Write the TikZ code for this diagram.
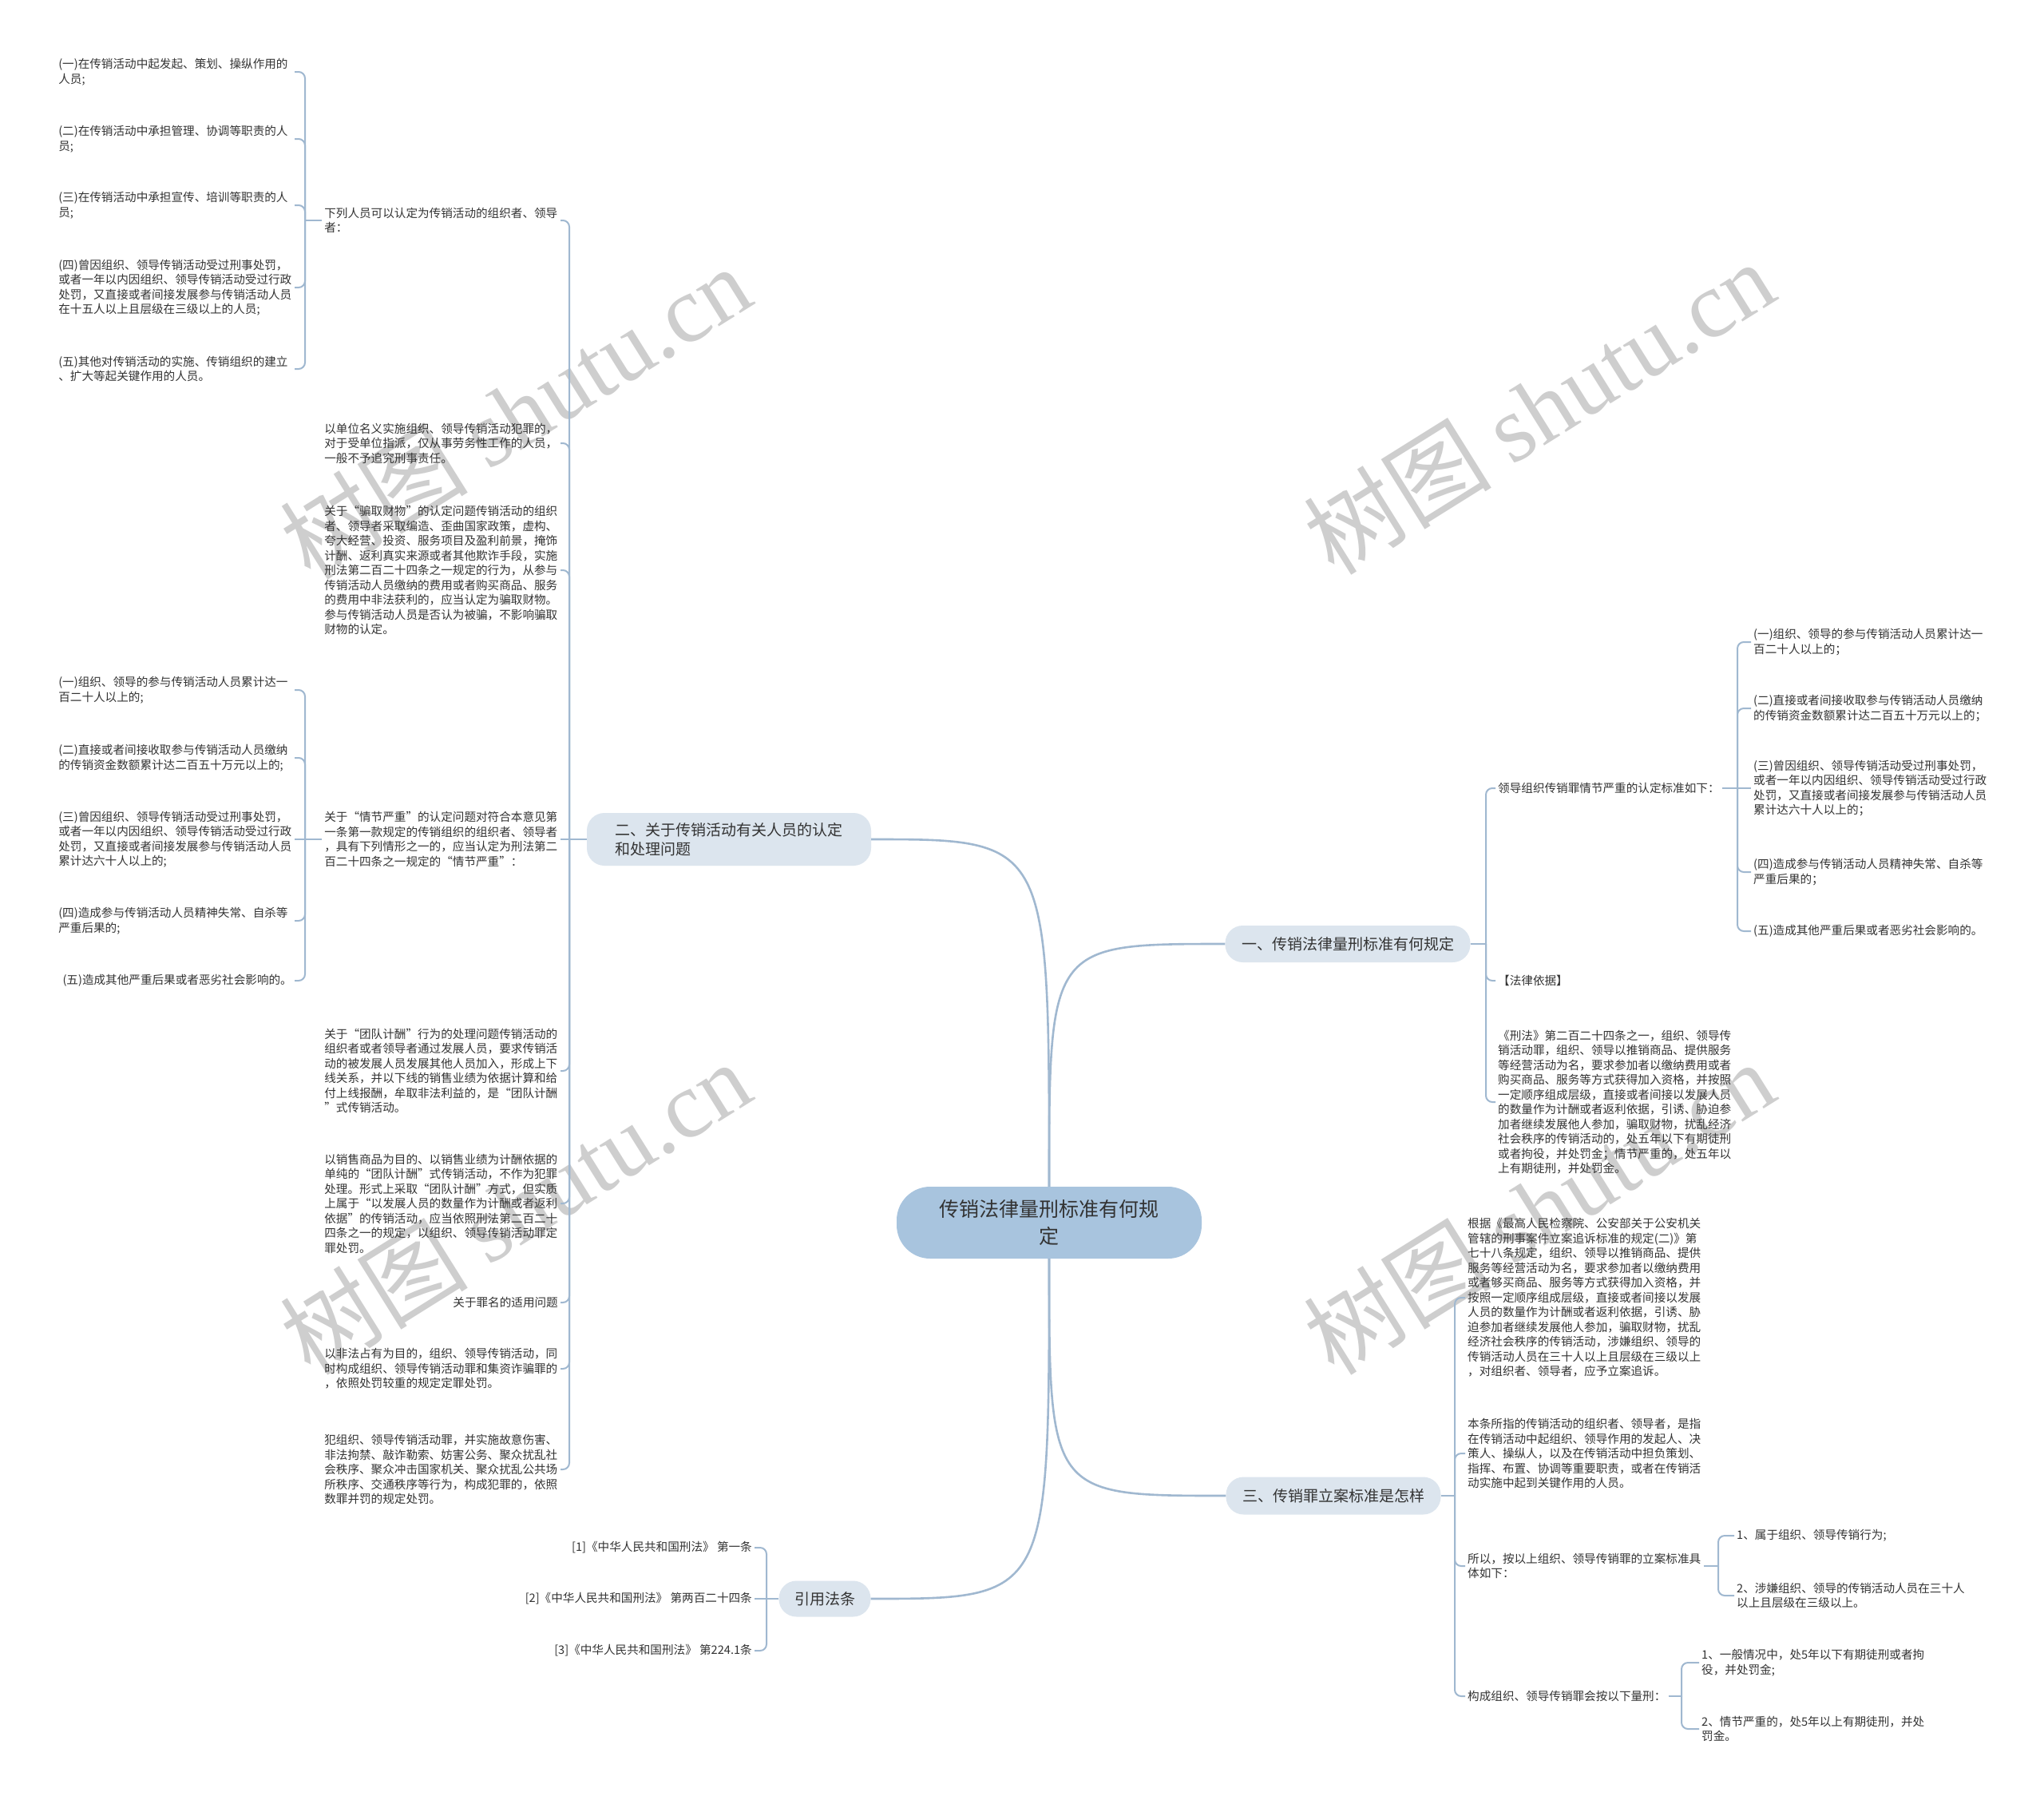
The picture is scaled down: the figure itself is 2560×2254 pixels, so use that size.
\documentclass[tikz,border=0pt]{standalone}
\usepackage{fontspec}
\setmainfont{Noto Sans CJK SC}
\newfontfamily\wmserif{Liberation Serif}
\usetikzlibrary{calc}
\definecolor{txt}{RGB}{51,51,51}
\definecolor{lnc}{RGB}{160,184,208}
\definecolor{ctrfill}{RGB}{168,196,222}
\definecolor{brfill}{RGB}{220,229,238}
\definecolor{wm}{RGB}{206,206,206}
\tikzset{
  leaf/.style={inner sep=3pt, text=txt, font=\fontsize{14.6}{18.5}\selectfont, align=left},
  para/.style={leaf, text width=292.5pt},
  branch/.style={rounded corners=22pt, fill=brfill, text=txt, font=\fontsize{19}{24.5}\selectfont, align=left, inner sep=0pt},
  ctr/.style={rounded corners=42pt, fill=ctrfill, text=txt, font=\fontsize{25}{34}\selectfont, align=center, inner sep=0pt, minimum width=382pt, minimum height=90pt},
  conn/.style={draw=lnc, line width=2pt},
  hook/.style={conn, rounded corners=8pt},
  mainc/.style={draw=lnc, line width=2.6pt},
  wmark/.style={text=wm, rotate=32, font=\fontsize{118}{118}\selectfont, inner sep=0pt}
}
\begin{document}
\begin{tikzpicture}[x=1pt,y=-1pt]
\fill[white] (0,0) rectangle (2560,2254);
\useasboundingbox (0,0) rectangle (2560,2254);

% watermarks
\node[wmark] (w1) at (645,516) {树图 {\wmserif shutu.cn}};
\node[wmark] (w2) at (1927,510) {树图 {\wmserif shutu.cn}};
\node[wmark] (w3) at (645,1512) {树图 {\wmserif shutu.cn}};
\node[wmark] (w4) at (1927,1512) {树图 {\wmserif shutu.cn}};

% spine coordinates
\coordinate (sp2) at (713,0);
\coordinate (spg1) at (382,0);
\coordinate (spg2) at (382,0);
\coordinate (sp1) at (1861,0);
\coordinate (spr1) at (2176,0);
\coordinate (sp3) at (1822,0);
\coordinate (spt3) at (2152,0);
\coordinate (spt4) at (2106,0);
\coordinate (sp4) at (960,0);

% center and branches
\node[ctr] (cn) at (1314,1531) {传销法律量刑标准有何规\\定};
\node[branch, minimum width=356pt, minimum height=66pt] (b2) at (913,1051) {二、关于传销活动有关人员的认定\\和处理问题};
\node[branch, minimum width=307pt, minimum height=46pt] (b1) at (1688,1182) {一、传销法律量刑标准有何规定};
\node[branch, minimum width=269pt, minimum height=47pt] (b3) at (1670,1873) {三、传销罪立案标准是怎样};
\node[branch, minimum width=115pt, minimum height=45pt] (b4) at (1033,2002) {引用法条};

% branch 二 children
\node[para, anchor=east] (c1) at (702,276) {下列人员可以认定为传销活动的组织者、领导\\者：};
\node[para, anchor=east] (c2) at (702,555) {以单位名义实施组织、领导传销活动犯罪的，\\对于受单位指派，仅从事劳务性工作的人员，\\一般不予追究刑事责任。};
\node[para, anchor=east] (c3) at (702,714) {关于“骗取财物”的认定问题传销活动的组织\\者、领导者采取编造、歪曲国家政策，虚构、\\夸大经营、投资、服务项目及盈利前景，掩饰\\计酬、返利真实来源或者其他欺诈手段，实施\\刑法第二百二十四条之一规定的行为，从参与\\传销活动人员缴纳的费用或者购买商品、服务\\的费用中非法获利的，应当认定为骗取财物。\\参与传销活动人员是否认为被骗，不影响骗取\\财物的认定。};
\node[para, anchor=east] (c4) at (702,1051) {关于“情节严重”的认定问题对符合本意见第\\一条第一款规定的传销组织的组织者、领导者\\，具有下列情形之一的，应当认定为刑法第二\\百二十四条之一规定的“情节严重”：};
\node[para, anchor=east] (c5) at (702,1341) {关于“团队计酬”行为的处理问题传销活动的\\组织者或者领导者通过发展人员，要求传销活\\动的被发展人员发展其他人员加入，形成上下\\线关系，并以下线的销售业绩为依据计算和给\\付上线报酬，牟取非法利益的，是“团队计酬\\”式传销活动。};
\node[para, anchor=east] (c6) at (702,1507) {以销售商品为目的、以销售业绩为计酬依据的\\单纯的“团队计酬”式传销活动，不作为犯罪\\处理。形式上采取“团队计酬”方式，但实质\\上属于“以发展人员的数量作为计酬或者返利\\依据”的传销活动，应当依照刑法第二百二十\\四条之一的规定，以组织、领导传销活动罪定\\罪处罚。};
\node[leaf, anchor=east] (c7) at (702,1631) {关于罪名的适用问题};
\node[para, anchor=east] (c8) at (702,1714) {以非法占有为目的，组织、领导传销活动，同\\时构成组织、领导传销活动罪和集资诈骗罪的\\，依照处罚较重的规定定罪处罚。};
\node[para, anchor=east] (c9) at (702,1840) {犯组织、领导传销活动罪，并实施故意伤害、\\非法拘禁、敲诈勒索、妨害公务、聚众扰乱社\\会秩序、聚众冲击国家机关、聚众扰乱公共场\\所秩序、交通秩序等行为，构成犯罪的，依照\\数罪并罚的规定处罚。};

% group 1 (children of c1)
\node[para, anchor=east] (g1a) at (369,90) {(一)在传销活动中起发起、策划、操纵作用的\\人员;};
\node[para, anchor=east] (g1b) at (369,174) {(二)在传销活动中承担管理、协调等职责的人\\员;};
\node[para, anchor=east] (g1c) at (369,257) {(三)在传销活动中承担宣传、培训等职责的人\\员;};
\node[para, anchor=east] (g1d) at (369,360) {(四)曾因组织、领导传销活动受过刑事处罚，\\或者一年以内因组织、领导传销活动受过行政\\处罚，又直接或者间接发展参与传销活动人员\\在十五人以上且层级在三级以上的人员;};
\node[para, anchor=east] (g1e) at (369,462) {(五)其他对传销活动的实施、传销组织的建立\\、扩大等起关键作用的人员。};

% group 2 (children of c4)
\node[para, anchor=east] (g2a) at (369,864) {(一)组织、领导的参与传销活动人员累计达一\\百二十人以上的;};
\node[para, anchor=east] (g2b) at (369,949) {(二)直接或者间接收取参与传销活动人员缴纳\\的传销资金数额累计达二百五十万元以上的;};
\node[para, anchor=east] (g2c) at (369,1051) {(三)曾因组织、领导传销活动受过刑事处罚，\\或者一年以内因组织、领导传销活动受过行政\\处罚，又直接或者间接发展参与传销活动人员\\累计达六十人以上的;};
\node[para, anchor=east] (g2d) at (369,1153) {(四)造成参与传销活动人员精神失常、自杀等\\严重后果的;};
\node[leaf, anchor=east] (g2e) at (369,1228) {(五)造成其他严重后果或者恶劣社会影响的。};

% branch 一 children
\node[leaf, anchor=west] (r1) at (1873,987) {领导组织传销罪情节严重的认定标准如下：};
\node[leaf, anchor=west] (r2) at (1873,1228) {【法律依据】};
\node[para, anchor=west] (r3) at (1873,1380) {《刑法》第二百二十四条之一，组织、领导传\\销活动罪，组织、领导以推销商品、提供服务\\等经营活动为名，要求参加者以缴纳费用或者\\购买商品、服务等方式获得加入资格，并按照\\一定顺序组成层级，直接或者间接以发展人员\\的数量作为计酬或者返利依据，引诱、胁迫参\\加者继续发展他人参加，骗取财物，扰乱经济\\社会秩序的传销活动的，处五年以下有期徒刑\\或者拘役，并处罚金；情节严重的，处五年以\\上有期徒刑，并处罚金。};

\node[para, anchor=west] (r1a) at (2193,804) {(一)组织、领导的参与传销活动人员累计达一\\百二十人以上的；};
\node[para, anchor=west] (r1b) at (2193,887) {(二)直接或者间接收取参与传销活动人员缴纳\\的传销资金数额累计达二百五十万元以上的；};
\node[para, anchor=west] (r1c) at (2193,987) {(三)曾因组织、领导传销活动受过刑事处罚，\\或者一年以内因组织、领导传销活动受过行政\\处罚，又直接或者间接发展参与传销活动人员\\累计达六十人以上的；};
\node[para, anchor=west] (r1d) at (2193,1092) {(四)造成参与传销活动人员精神失常、自杀等\\严重后果的；};
\node[leaf, anchor=west] (r1e) at (2193,1166) {(五)造成其他严重后果或者恶劣社会影响的。};

% branch 三 children
\node[para, anchor=west] (t1) at (1835,1625) {根据《最高人民检察院、公安部关于公安机关\\管辖的刑事案件立案追诉标准的规定(二)》第\\七十八条规定，组织、领导以推销商品、提供\\服务等经营活动为名，要求参加者以缴纳费用\\或者够买商品、服务等方式获得加入资格，并\\按照一定顺序组成层级，直接或者间接以发展\\人员的数量作为计酬或者返利依据，引诱、胁\\迫参加者继续发展他人参加，骗取财物，扰乱\\经济社会秩序的传销活动，涉嫌组织、领导的\\传销活动人员在三十人以上且层级在三级以上\\，对组织者、领导者，应予立案追诉。};
\node[para, anchor=west] (t2) at (1835,1820) {本条所指的传销活动的组织者、领导者，是指\\在传销活动中起组织、领导作用的发起人、决\\策人、操纵人，以及在传销活动中担负策划、\\指挥、布置、协调等重要职责，或者在传销活\\动实施中起到关键作用的人员。};
\node[para, anchor=west] (t3) at (1835,1961) {所以，按以上组织、领导传销罪的立案标准具\\体如下：};
\node[leaf, anchor=west] (t4) at (1835,2124) {构成组织、领导传销罪会按以下量刑：};
\node[leaf, anchor=west] (t3a) at (2172,1923) {1、属于组织、领导传销行为;};
\node[para, anchor=west] (t3b) at (2172,1998) {2、涉嫌组织、领导的传销活动人员在三十人\\以上且层级在三级以上。};
\node[para, anchor=west] (t4a) at (2128,2082) {1、一般情况中，处5年以下有期徒刑或者拘\\役，并处罚金;};
\node[para, anchor=west] (t4b) at (2128,2165) {2、情节严重的，处5年以上有期徒刑，并处\\罚金。};

% 引用法条 children
\node[leaf, anchor=east] (q1) at (945,1938) {[1]《中华人民共和国刑法》 第一条};
\node[leaf, anchor=east] (q2) at (945,2002) {[2]《中华人民共和国刑法》 第两百二十四条};
\node[leaf, anchor=east] (q3) at (945,2067) {[3]《中华人民共和国刑法》 第224.1条};

% main curves
\draw[mainc] (cn.north) .. controls (cn.north |- b2.east) .. (b2.east);
\draw[mainc] (cn.north) .. controls (cn.north |- b1.west) .. (b1.west);
\draw[mainc] (cn.south) .. controls (cn.south |- b3.west) .. (b3.west);
\draw[mainc] (cn.south) .. controls (cn.south |- b4.east) .. (b4.east);

% branch 二 connectors
\draw[conn] (b2.west) -- (c4.east);
\foreach \c in {c1,c2,c3,c5,c6,c7,c8,c9}
  \draw[hook] (b2.west -| sp2) -- (\c.east -| sp2) -- (\c.east);

% c1 -> group 1
\draw[conn] (c1.west) -- (c1.west -| spg1);
\foreach \c in {g1a,g1b,g1c,g1d,g1e}
  \draw[hook] (c1.west -| spg1) -- (\c.east -| spg1) -- (\c.east);

% c4 -> group 2
\draw[conn] (c4.west) -- (g2c.east);
\foreach \c in {g2a,g2b,g2d,g2e}
  \draw[hook] (c4.west -| spg2) -- (\c.east -| spg2) -- (\c.east);

% branch 一 connectors
\draw[conn] (b1.east) -- (b1.east -| sp1);
\foreach \c in {r1,r2,r3}
  \draw[hook] (b1.east -| sp1) -- (\c.west -| sp1) -- (\c.west);

\draw[conn] (r1.east) -- (r1c.west);
\foreach \c in {r1a,r1b,r1d,r1e}
  \draw[hook] (r1.east -| spr1) -- (\c.west -| spr1) -- (\c.west);

% branch 三 connectors
\draw[conn] (b3.east) -- (b3.east -| sp3);
\foreach \c in {t1,t2,t3,t4}
  \draw[hook] (b3.east -| sp3) -- (\c.west -| sp3) -- (\c.west);

\draw[conn] (t3.east) -- (t3.east -| spt3);
\foreach \c in {t3a,t3b}
  \draw[hook] (t3.east -| spt3) -- (\c.west -| spt3) -- (\c.west);

\draw[conn] (t4.east) -- (t4.east -| spt4);
\foreach \c in {t4a,t4b}
  \draw[hook] (t4.east -| spt4) -- (\c.west -| spt4) -- (\c.west);

% 引用法条 connectors
\draw[conn] (b4.west) -- (q2.east);
\foreach \c in {q1,q3}
  \draw[hook] (b4.west -| sp4) -- (\c.east -| sp4) -- (\c.east);

\end{tikzpicture}
\end{document}
